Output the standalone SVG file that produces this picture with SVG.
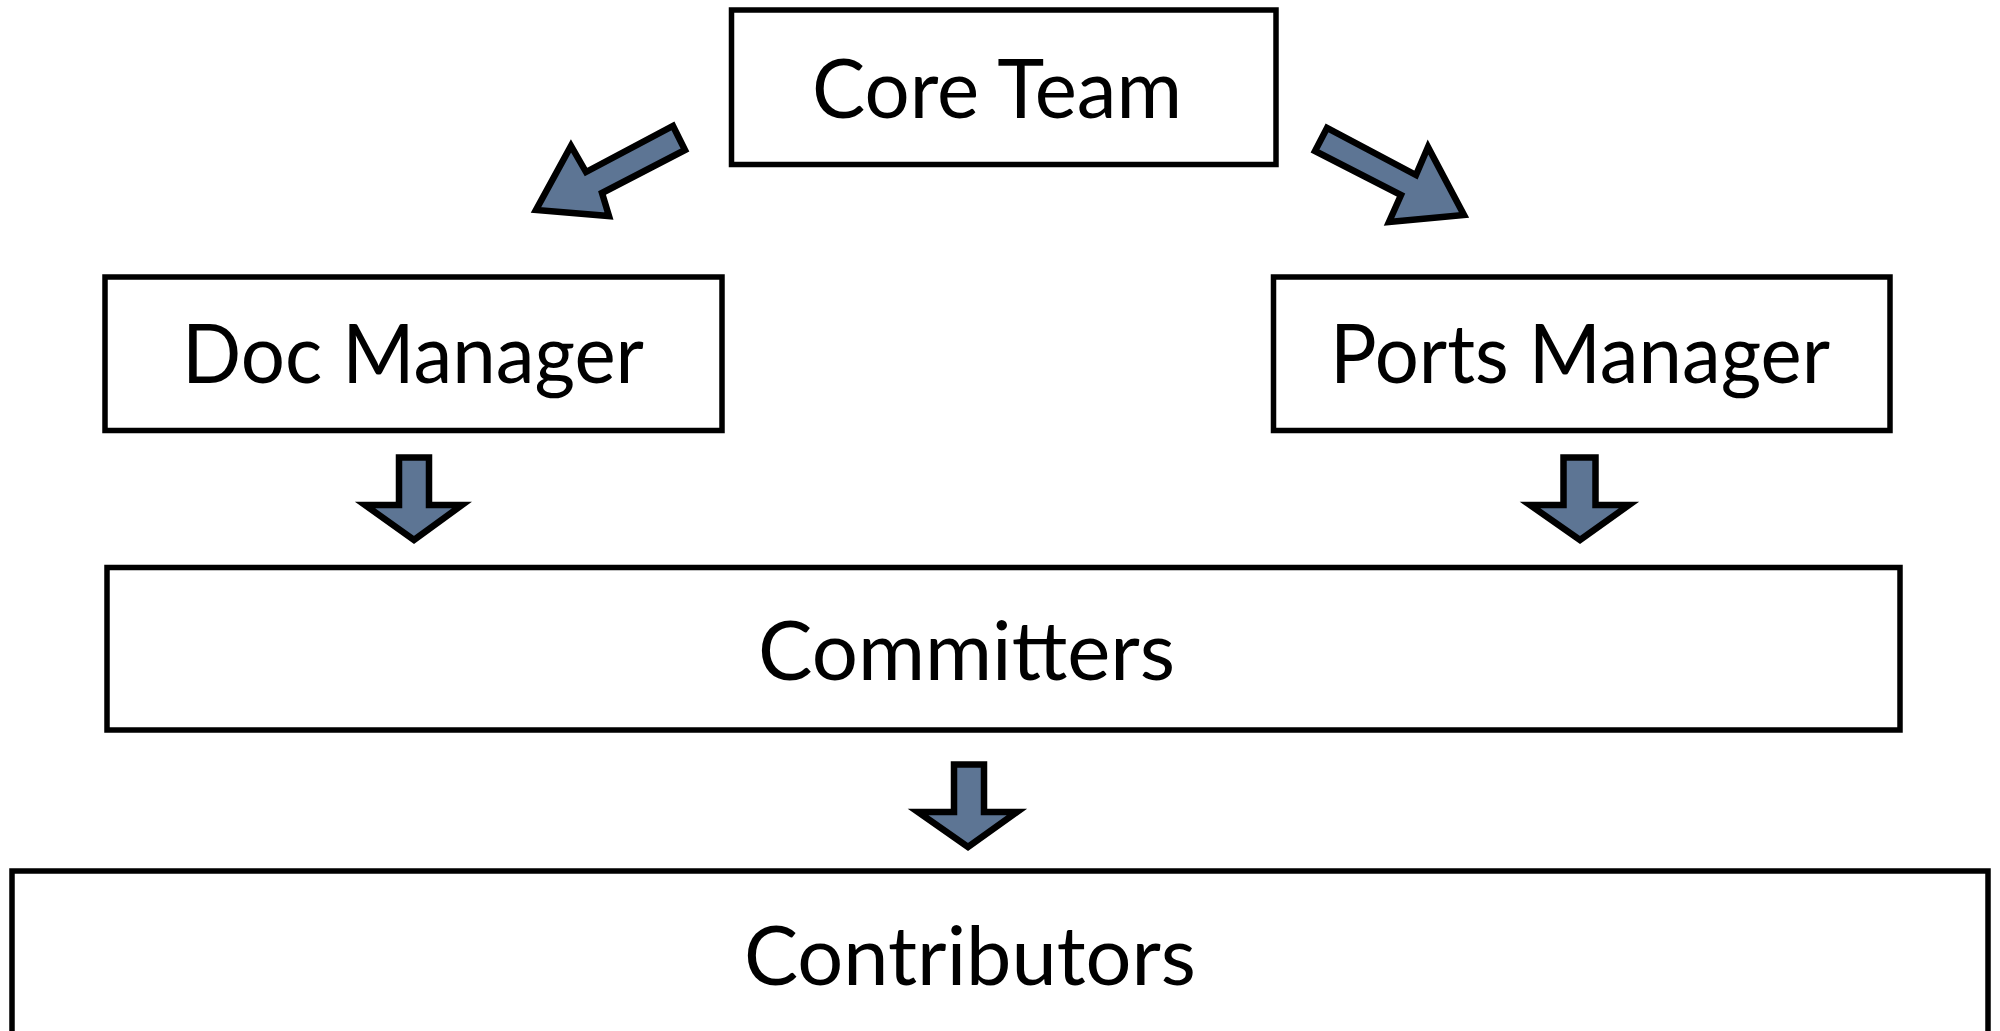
<svg xmlns="http://www.w3.org/2000/svg" width="2000" height="1031" viewBox="0 0 2000 1031">
<style>
.box{fill:#fff;stroke:#000;stroke-width:5.5}
.lbl{font-family:Lato,"Open Sans","Liberation Sans",sans-serif;font-size:81px;fill:#000;text-anchor:middle}
.arr{fill:#5d7594;stroke:#000;stroke-width:6.5;stroke-linejoin:miter}
</style>
<rect width="2000" height="1031" fill="#fff"/>
<g id="core-team">
<rect class="box" x="731.5" y="10" width="544.5" height="154.5"/>
<text class="lbl" x="997" y="118" textLength="370" lengthAdjust="spacingAndGlyphs">Core Team</text>
</g>
<g id="doc-manager">
<rect class="box" x="105" y="277" width="617" height="153.5"/>
<text class="lbl" x="413" y="383" textLength="462" lengthAdjust="spacingAndGlyphs">Doc Manager</text>
</g>
<g id="ports-manager">
<rect class="box" x="1273.5" y="277" width="616.5" height="153.5"/>
<text class="lbl" x="1580" y="383" textLength="500" lengthAdjust="spacingAndGlyphs">Ports Manager</text>
</g>
<g id="committers">
<rect class="box" x="107" y="567.5" width="1793" height="162.5"/>
<text class="lbl" x="966.5" y="680" textLength="417" lengthAdjust="spacingAndGlyphs">Committers</text>
</g>
<g id="contributors">
<rect class="box" x="12" y="871" width="1976" height="200"/>
<text class="lbl" x="970" y="985" textLength="452" lengthAdjust="spacingAndGlyphs">Contributors</text>
</g>
<g id="connectors">
<polygon class="arr" points="673,126 685,150 602,193 609,216 536,210 571,146 586,172"/>
<polygon class="arr" points="1327,128 1315,151 1401,195 1389,222 1464,215 1428,147 1416,175"/>
<polygon class="arr" points="399,457.5 429,457.5 429,505 462,505 414,540 365,505 399,505"/>
<polygon class="arr" points="1563.5,457.5 1595.5,457.5 1595.5,505 1629,505 1580,540 1530,505 1563.5,505"/>
<polygon class="arr" points="954,764.5 984,764.5 984,812 1017,812 968,847 918,812 954,812"/>
</g>
</svg>
